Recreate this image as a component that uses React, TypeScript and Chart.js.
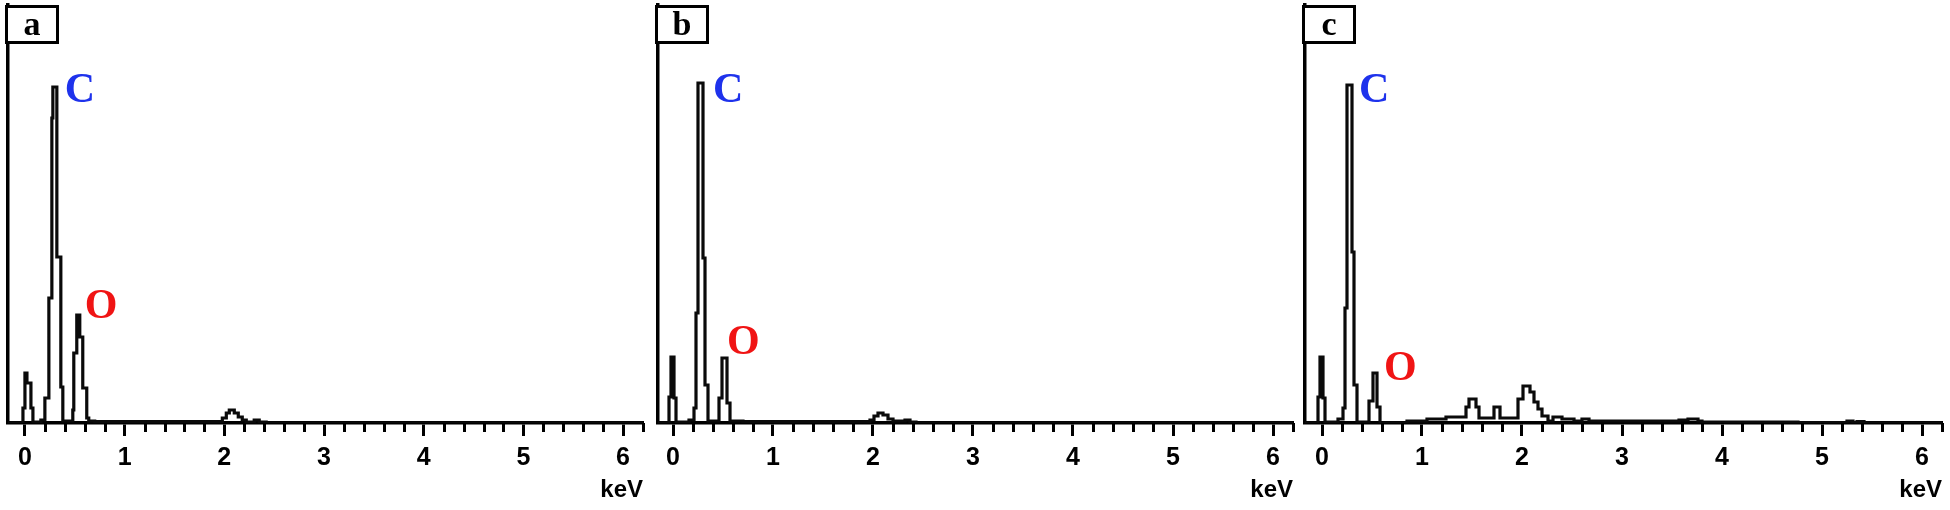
import React, { useEffect, useRef } from 'react';
import { Chart, registerables } from 'chart.js';

Chart.register(...registerables);

// ---------- data ----------
const panelLetters = ['a', 'b', 'c'];
const elementNames = ['C', 'O'];
const elementColors = ['#1e32ec', '#f01414'];

// panel a spectrum (step levels: counts from energy[i] to energy[i+1])
const energyA = [-0.19, -0.02, 0.0, 0.02, 0.06, 0.08, 0.16, 0.2, 0.24, 0.27, 0.28, 0.32, 0.36, 0.38, 0.48, 0.49, 0.52, 0.55, 0.58, 0.62, 0.64, 0.7, 1.98, 2.02, 2.05, 2.1, 2.14, 2.18, 2.22, 2.3, 2.35, 2.42, 6.2];
const countsA = [0, 15, 50, 40, 15, 1, 3, 25, 125, 305, 336, 166, 36, 2, 13, 70, 108, 86, 35, 5, 2, 1.5, 5, 10, 13, 10, 6, 3, 1, 3, 1, 0, 0];

// panel b spectrum
const energyB = [-0.17, -0.04, -0.02, 0.01, 0.03, 0.16, 0.21, 0.23, 0.25, 0.3, 0.32, 0.35, 0.46, 0.49, 0.54, 0.57, 0.7, 1.97, 2.01, 2.05, 2.1, 2.15, 2.2, 2.32, 2.37, 2.43, 6.2];
const countsB = [0, 26, 66, 25, 1, 3, 15, 110, 340, 165, 38, 2, 25, 65, 20, 2, 1.5, 3, 7, 10, 8, 4, 2, 3, 1, 0, 0];

// panel c spectrum
const energyC = [-0.19, -0.04, -0.02, 0.01, 0.03, 0.16, 0.21, 0.23, 0.25, 0.3, 0.32, 0.35, 0.47, 0.51, 0.55, 0.58, 0.85, 1.05, 1.24, 1.44, 1.47, 1.54, 1.57, 1.72, 1.78, 1.96, 2.01, 2.08, 2.12, 2.16, 2.2, 2.26, 2.31, 2.4, 2.52, 2.6, 2.67, 3.57, 3.66, 3.76, 3.8, 4.76, 5.25, 5.31, 5.35, 5.42, 6.2];
const countsC = [0, 26, 66, 25, 1, 4, 15, 115, 338, 171, 38, 1, 22, 50, 16, 0, 2, 4, 6, 16, 24, 16, 5, 16, 5, 24, 37, 31, 21, 14, 7, 2, 6, 4, 2, 4, 2, 3, 4, 2, 1, 0.5, 2, 0.5, 1.5, 0, 0];

// element label anchors (keV, counts) per panel: [C, O]
const labelKevA = [0.4, 0.6];
const labelCountsA = [321, 105];
const labelKevB = [0.4, 0.54];
const labelCountsB = [321, 69];
const labelKevC = [0.37, 0.62];
const labelCountsC = [321, 43];

// axis ranges
const xMinA = -0.17, xMaxA = 6.2;
const xMinB = -0.15, xMaxB = 6.2;
const xMinC = -0.17, xMaxC = 6.2;
const yMax = 418;

const isMajor = (v: number) => Math.abs(v - Math.round(v)) < 1e-6;

const decorPlugin = {
  id: 'panelDecor',
  afterDraw(chart: any, _args: any, opts: any) {
    const { ctx, chartArea, scales } = chart;
    const xs = scales.x;
    const ys = scales.y;
    ctx.save();
    // minor ticks
    ctx.strokeStyle = '#000';
    ctx.lineWidth = 3;
    for (const t of xs.ticks) {
      if (isMajor(t.value)) continue;
      const px = Math.round(xs.getPixelForValue(t.value)) + 0.5;
      ctx.beginPath();
      ctx.moveTo(px, chartArea.bottom);
      ctx.lineTo(px, chartArea.bottom + 9);
      ctx.stroke();
    }
    // letter box
    const bx = chartArea.left - 1.5;
    const by = chartArea.top + 1.5;
    ctx.fillStyle = '#fff';
    ctx.fillRect(bx, by, 51, 36);
    ctx.strokeRect(bx, by, 51, 36);
    ctx.fillStyle = '#000';
    ctx.font = 'bold 34px "Liberation Serif", "DejaVu Serif", serif';
    ctx.textAlign = 'center';
    ctx.textBaseline = 'alphabetic';
    ctx.fillText(opts.letter, chartArea.left + 24, chartArea.top + 30);
    // element labels
    ctx.font = 'bold 42px "Liberation Serif", "DejaVu Serif", serif';
    ctx.textAlign = 'left';
    for (let i = 0; i < opts.names.length; i++) {
      ctx.fillStyle = opts.colors[i];
      ctx.fillText(opts.names[i], xs.getPixelForValue(opts.kev[i]), ys.getPixelForValue(opts.counts[i]));
    }
    ctx.restore();
  },
};

type PanelProps = {
  left: number;
  width: number;
  padLeft: number;
  padRight: number;
  energy: number[];
  counts: number[];
  xMin: number;
  xMax: number;
  letter: string;
  labelKev: number[];
  labelCounts: number[];
};

function Panel(p: PanelProps) {
  const ref = useRef<HTMLCanvasElement | null>(null);
  useEffect(() => {
    if (!ref.current) return;
    const sans = '"Liberation Sans", Arial, sans-serif';
    const chart = new Chart(ref.current, {
      type: 'line',
      data: {
        datasets: [
          {
            data: p.energy.map((e, i) => ({ x: e, y: p.counts[i] })),
            borderColor: '#0a0a0a',
            borderWidth: 3.2,
            stepped: 'before',
            pointRadius: 0,
            fill: false,
          },
        ],
      },
      plugins: [decorPlugin],
      options: {
        animation: false,
        responsive: false,
        layout: { padding: { left: p.padLeft, right: p.padRight, top: 5, bottom: 0 } },
        plugins: {
          legend: { display: false },
          tooltip: { enabled: false },
          panelDecor: {
            letter: p.letter,
            names: elementNames,
            colors: elementColors,
            kev: p.labelKev,
            counts: p.labelCounts,
          },
        } as any,
        scales: {
          x: {
            type: 'linear',
            min: p.xMin,
            max: p.xMax,
            ticks: {
              stepSize: 0.2,
              autoSkip: false,
              maxRotation: 0,
              includeBounds: false,
              padding: 7,
              color: '#000',
              font: { family: sans, size: 25, weight: 'bold' },
              callback: (v: any) => (isMajor(Number(v)) ? String(Math.round(Number(v))) : ''),
            },
            grid: {
              drawOnChartArea: false,
              drawTicks: true,
              tickLength: 13,
              tickWidth: 3,
              tickColor: (c: any) => (c.tick && isMajor(c.tick.value) ? '#000' : 'rgba(0,0,0,0)'),
            },
            border: { display: true, color: '#000', width: 3.5 },
            title: {
              display: true,
              text: 'keV',
              align: 'end',
              color: '#000',
              font: { family: sans, size: 24, weight: 'bold' },
              padding: { top: 0, bottom: 5 },
            },
            afterFit: (s: any) => {
              s.height = 87;
            },
          },
          y: {
            type: 'linear',
            min: 0,
            max: yMax,
            ticks: { display: false },
            grid: { display: false, drawTicks: false },
            border: { display: true, color: '#000', width: 3.5 },
            afterFit: (s: any) => {
              s.width = 0;
            },
          },
        },
      } as any,
    });
    return () => chart.destroy();
  }, []);
  return (
    <canvas
      ref={ref}
      width={p.width}
      height={510}
      style={{ position: 'absolute', left: p.left, top: 0, width: p.width, height: 510 }}
    />
  );
}

export default function App() {
  return (
    <div style={{ position: 'absolute', left: 0, top: 0, width: 1950, height: 510, background: '#fff', overflow: 'hidden' }}>
      <Panel left={0} width={650} padLeft={8} padRight={5} energy={energyA} counts={countsA} xMin={xMinA} xMax={xMaxA} letter={panelLetters[0]} labelKev={labelKevA} labelCounts={labelCountsA} />
      <Panel left={650} width={650} padLeft={8} padRight={7} energy={energyB} counts={countsB} xMin={xMinB} xMax={xMaxB} letter={panelLetters[1]} labelKev={labelKevB} labelCounts={labelCountsB} />
      <Panel left={1300} width={650} padLeft={5} padRight={8} energy={energyC} counts={countsC} xMin={xMinC} xMax={xMaxC} letter={panelLetters[2]} labelKev={labelKevC} labelCounts={labelCountsC} />
    </div>
  );
}
